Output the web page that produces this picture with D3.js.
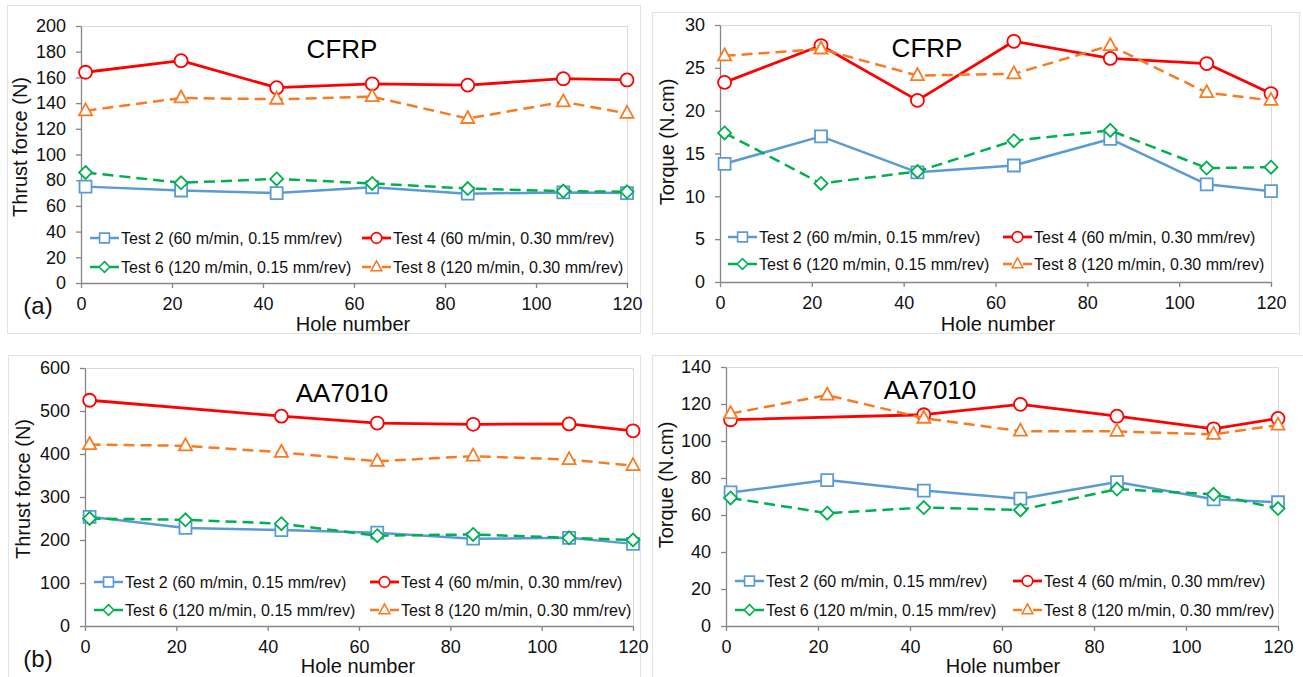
<!DOCTYPE html>
<html>
<head>
<meta charset="utf-8">
<script src="https://cdn.jsdelivr.net/npm/d3@7"></script>
<style>
  html, body { margin: 0; padding: 0; background: #ffffff; }
  svg { display: block; font-family: "Liberation Sans", Arial, sans-serif; }
</style>
</head>
<body>
<svg id="chart" width="1303" height="677"></svg>
<script>
// ---------- DATA ----------
const holes = [1, 22, 43, 64, 85, 106, 120];
const xTicks = [0, 20, 40, 60, 80, 100, 120];
const seriesNames = [
  "Test 2 (60 m/min, 0.15 mm/rev)",
  "Test 4 (60 m/min, 0.30 mm/rev)",
  "Test 6 (120 m/min, 0.15 mm/rev)",
  "Test 8 (120 m/min, 0.30 mm/rev)"
];
// (a) CFRP thrust force (N)
const cfrpThrustT2 = [75, 72, 70, 74.5, 69.5, 70.5, 70];
const cfrpThrustT4 = [164, 173, 152, 155, 154, 159, 158];
const cfrpThrustT6 = [86, 78, 81, 77.5, 73.5, 71.5, 71];
const cfrpThrustT8 = [134, 144, 143, 145, 128, 141, 132];
// CFRP torque (N.cm)
const cfrpTorqueT2 = [13.8, 17.0, 12.8, 13.6, 16.7, 11.4, 10.6];
const cfrpTorqueT4 = [23.3, 27.6, 21.2, 28.1, 26.1, 25.5, 22.0];
const cfrpTorqueT6 = [17.4, 11.5, 12.9, 16.5, 17.7, 13.3, 13.4];
const cfrpTorqueT8 = [26.4, 27.2, 24.1, 24.3, 27.6, 22.1, 21.2];
// (b) AA7010 thrust force (N)
const alThrustT2 = [254, 228, 223, 217, 203, 205, 191];
const alThrustT4 = [525, null, 488, 472, 469, 470, 454];
const alThrustT6 = [250, 247, 238, 210, 213, 205, 200];
const alThrustT8 = [422, 419, 404, 383, 395, 387, 373];
// AA7010 torque (N.cm)
const alTorqueT2 = [72.2, 78.9, 73.2, 68.8, 77.8, 68.5, 66.9];
const alTorqueT4 = [111.5, null, 114.2, 119.8, 113.4, 106.6, 112.2];
const alTorqueT6 = [69.2, 61.0, 64.0, 62.7, 74.0, 71.2, 63.5];
const alTorqueT8 = [114.8, 124.8, 112.3, 105.3, 105.2, 103.6, 108.6];

const thrustCfrpTicks = [0, 20, 40, 60, 80, 100, 120, 140, 160, 180, 200];
const torqueCfrpTicks = [0, 5, 10, 15, 20, 25, 30];
const thrustAlTicks = [0, 100, 200, 300, 400, 500, 600];
const torqueAlTicks = [0, 20, 40, 60, 80, 100, 120, 140];

// ---------- STYLE ----------
const seriesStyle = [
  { color: "#5b9bd5", dash: null, marker: "square" },
  { color: "#ff0000", dash: null, marker: "circle" },
  { color: "#00b050", dash: "11,6", marker: "diamond" },
  { color: "#fa7a22", dash: "11,6", marker: "triangle" }
];

const panels = [
  { series: [cfrpThrustT2, cfrpThrustT4, cfrpThrustT6, cfrpThrustT8], ticks: thrustCfrpTicks,
    xr: [81, 627], yr: [283, 26], title: "CFRP", titleX: 342, titleY: 58,
    ylab: "Thrust force (N)", ylabX: 20, ylabY: 147, xlabX: 353, xlabY: 331,
    leg: { c1: 90, c2: 362, r1: 238, r2: 267 }, tag: "(a)", tagX: 38, tagY: 314,
    box: [7, 5, 633, 328] },
  { series: [cfrpTorqueT2, cfrpTorqueT4, cfrpTorqueT6, cfrpTorqueT8], ticks: torqueCfrpTicks,
    xr: [720, 1271], yr: [282, 25], title: "CFRP", titleX: 927, titleY: 57,
    ylab: "Torque (N.cm)", ylabX: 667, ylabY: 142, xlabX: 998, xlabY: 331,
    leg: { c1: 728, c2: 1003, r1: 237, r2: 264 }, tag: null,
    box: [652, 12, 647, 321] },
  { series: [alThrustT2, alThrustT4, alThrustT6, alThrustT8], ticks: thrustAlTicks,
    xr: [85, 633], yr: [626, 368], title: "AA7010", titleX: 342, titleY: 402,
    ylab: "Thrust force (N)", ylabX: 23, ylabY: 489, xlabX: 358, xlabY: 673,
    leg: { c1: 94, c2: 370, r1: 582, r2: 610 }, tag: "(b)", tagX: 38, tagY: 667,
    box: [8, 355, 632, 340] },
  { series: [alTorqueT2, alTorqueT4, alTorqueT6, alTorqueT8], ticks: torqueAlTicks,
    xr: [726, 1278], yr: [626, 367], title: "AA7010", titleX: 930, titleY: 399,
    ylab: "Torque (N.cm)", ylabX: 666, ylabY: 485, xlabX: 1003, xlabY: 673,
    leg: { c1: 735, c2: 1013, r1: 581, r2: 610 }, tag: null,
    box: [652, 355, 660, 340] }
];

const svg = d3.select("#chart");

function markerPath(type, k) {
  const s = k || 1;
  if (type === "square") { const h = 6 * s; return `M${-h},${-h}h${2*h}v${2*h}h${-2*h}Z`; }
  if (type === "circle") { const r = 6.5 * s; return `M${r},0A${r},${r} 0 1,1 ${-r},0A${r},${r} 0 1,1 ${r},0Z`; }
  if (type === "diamond") { const h = 6.5 * s; return `M0,${-h}L${h},0L0,${h}L${-h},0Z`; }
  const w = 6.5 * s; return `M0,${-7.5*s}L${w},${4.5*s}L${-w},${4.5*s}Z`;
}

panels.forEach(p => {
  const g = svg.append("g");
  // panel frame
  g.append("rect").attr("x", p.box[0] + 0.5).attr("y", p.box[1] + 0.5)
    .attr("width", p.box[2]).attr("height", p.box[3])
    .attr("fill", "none").attr("stroke", "#e3e3e3").attr("stroke-width", 1);

  const x = d3.scaleLinear().domain([0, 120]).range(p.xr);
  const y = d3.scaleLinear().domain([p.ticks[0], p.ticks[p.ticks.length - 1]]).range(p.yr);

  // plot area border (top & right)
  g.append("path")
    .attr("d", `M${p.xr[0]},${p.yr[1] + 0.5}H${p.xr[1] + 0.5}V${p.yr[0]}`)
    .attr("fill", "none").attr("stroke", "#d9d9d9").attr("stroke-width", 1);

  // axes
  const xAxis = d3.axisBottom(x).tickValues(xTicks).tickSize(5).tickSizeOuter(0).tickPadding(9);
  const yAxis = d3.axisLeft(y).tickValues(p.ticks).tickSize(5).tickSizeOuter(0).tickPadding(10);
  const gx = g.append("g").attr("transform", `translate(0,${p.yr[0]})`).call(xAxis);
  const gy = g.append("g").attr("transform", `translate(${p.xr[0]},0)`).call(yAxis);
  [gx, gy].forEach(a => {
    a.select(".domain").attr("stroke", "#868686").attr("stroke-width", 1.3);
    a.selectAll(".tick line").attr("stroke", "#868686").attr("stroke-width", 1.3);
    a.selectAll(".tick text").attr("fill", "#111").attr("font-size", 18)
      .attr("font-family", "'Liberation Sans', Arial, sans-serif");
  });

  // series
  p.series.forEach((vals, i) => {
    const st = seriesStyle[i];
    const pts = holes.map((h, k) => ({ h, v: vals[k] })).filter(d => d.v !== null);
    const line = d3.line().x(d => x(d.h)).y(d => y(d.v));
    g.append("path").datum(pts).attr("d", line)
      .attr("fill", "none").attr("stroke", st.color).attr("stroke-width", i === 1 ? 2.8 : 2.5)
      .attr("stroke-dasharray", st.dash).attr("stroke-linejoin", "round");
    g.selectAll(null).data(pts).enter().append("path")
      .attr("d", markerPath(st.marker, 1))
      .attr("transform", d => `translate(${x(d.h)},${y(d.v)})`)
      .attr("fill", "#fff").attr("stroke", st.color).attr("stroke-width", 1.8);
  });

  // legend
  const pos = [[p.leg.c1, p.leg.r1], [p.leg.c2, p.leg.r1], [p.leg.c1, p.leg.r2], [p.leg.c2, p.leg.r2]];
  seriesNames.forEach((name, i) => {
    const st = seriesStyle[i];
    const [lx, ly] = pos[i];
    if (st.dash) {
      g.append("line").attr("x1", lx).attr("x2", lx + 9).attr("y1", ly).attr("y2", ly)
        .attr("stroke", st.color).attr("stroke-width", 2.5);
      g.append("line").attr("x1", lx + 20).attr("x2", lx + 29).attr("y1", ly).attr("y2", ly)
        .attr("stroke", st.color).attr("stroke-width", 2.5);
    } else {
      g.append("line").attr("x1", lx).attr("x2", lx + 29).attr("y1", ly).attr("y2", ly)
        .attr("stroke", st.color).attr("stroke-width", i === 1 ? 2.8 : 2.5);
    }
    g.append("path").attr("d", markerPath(st.marker, 0.82))
      .attr("transform", `translate(${lx + 14.5},${ly})`)
      .attr("fill", "#fff").attr("stroke", st.color).attr("stroke-width", 1.6);
    g.append("text").attr("x", lx + 31).attr("y", ly + 6).attr("font-size", 16)
      .attr("fill", "#111").text(name);
  });

  // titles
  g.append("text").attr("x", p.titleX).attr("y", p.titleY).attr("text-anchor", "middle")
    .attr("font-size", 26).attr("fill", "#000").text(p.title);
  g.append("text").attr("x", p.xlabX).attr("y", p.xlabY).attr("text-anchor", "middle")
    .attr("font-size", 20).attr("fill", "#111").text("Hole number");
  g.append("text").attr("transform", `translate(${p.ylabX + 7},${p.ylabY}) rotate(-90)`)
    .attr("text-anchor", "middle").attr("font-size", 20).attr("fill", "#111").text(p.ylab);
  if (p.tag) {
    g.append("text").attr("x", p.tagX).attr("y", p.tagY).attr("text-anchor", "middle")
      .attr("font-size", 24).attr("fill", "#111").text(p.tag);
  }
});
</script>
</body>
</html>
